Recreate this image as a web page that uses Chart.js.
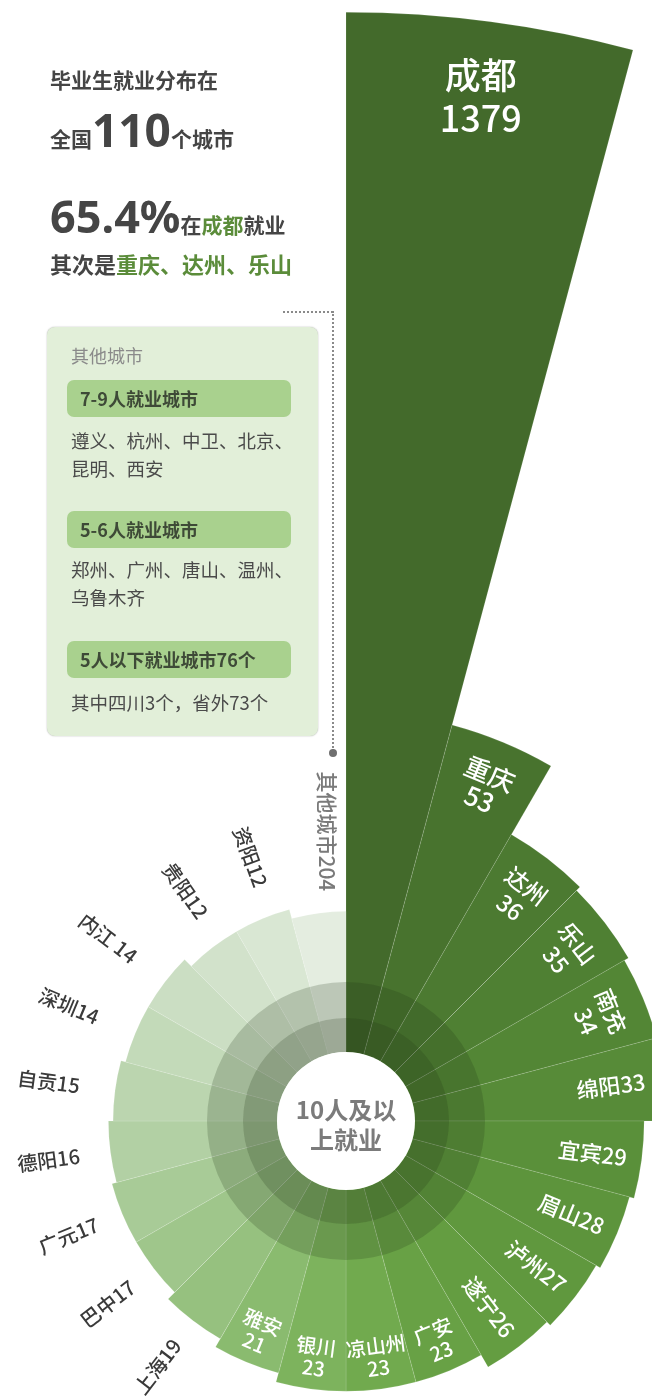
<!DOCTYPE html>
<html lang="zh-CN">
<head>
<meta charset="utf-8">
<script src="https://cdn.jsdelivr.net/npm/chart.js@4.4.1/dist/chart.umd.min.js"></script>
<style>
  html, body { margin: 0; padding: 0; background: #fff; }
  body {
    width: 652px; height: 1398px; overflow: hidden; position: relative;
    font-family: "Noto Sans CJK SC", "Noto Sans", sans-serif; color: #444;
  }
  #chartWrap { position: absolute; left: 0; top: 0; width: 652px; height: 1398px; }
  .t { position: absolute; white-space: nowrap; line-height: 1; }
  .head { font-size: 21px; font-weight: 700; color: #454545; }
  .big { font-weight: 700; color: #454545; font-family: "Noto Sans", "Noto Sans CJK SC", sans-serif; }
  .green { color: #5b8c3a; }
  .box {
    position: absolute; left: 47px; top: 327px; width: 271px; height: 409px;
    background: #e2efd9; border-radius: 8px; box-shadow: 0 0 1.5px rgba(0,0,0,0.35);
  }
  .pill {
    position: absolute; left: 67px; width: 224px; height: 37px; border-radius: 7px;
    background: #a9d18e; font-size: 18px; font-weight: 700; color: #3e4a37;
    line-height: 37px; padding-left: 13px; box-sizing: border-box;
  }
  .list { font-size: 18.5px; color: #4a4a4a; left: 71px; }
  .dotH { position: absolute; left: 283px; top: 311px; width: 50px; border-top: 2px dotted #8a8a8a; }
  .dotV { position: absolute; left: 332px; top: 311px; height: 440px; border-left: 2px dotted #8a8a8a; }
  .dot { position: absolute; left: 329px; top: 749px; width: 8px; height: 8px; border-radius: 50%; background: #6f6f6f; }
  .center { position: absolute; left: 276px; width: 140px; text-align: center; font-size: 24px; font-weight: 700; color: #7b7b7b; line-height: 1; }
</style>
</head>
<body>
<div id="chartWrap"><canvas id="roseChart"></canvas></div>

<div class="t head" style="left:50px; top:69px;">毕业生就业分布在</div>
<div class="t" style="left:50px; top:106px; line-height:46px;">
  <span class="head">全国</span><span class="big" style="font-size:46px;">110</span><span class="head">个城市</span>
</div>
<div class="t" style="left:50px; top:192px; line-height:47px;">
  <span class="big" style="font-size:45px;">65.4%</span><span class="head">在<span class="green">成都</span>就业</span>
</div>
<div class="t head" style="left:50px; top:252px; font-size:22px;">其次是<span class="green">重庆、达州、乐山</span></div>

<div class="dotH"></div>
<div class="dotV"></div>
<div class="dot"></div>

<div class="box"></div>
<div class="t" style="left:71px; top:346px; font-size:18px; color:#8a8a8a;">其他城市</div>
<div class="pill" style="top:380px;">7-9人就业城市</div>
<div class="t list" style="top:431px;">遵义、杭州、中卫、北京、</div>
<div class="t list" style="top:459px;">昆明、西安</div>
<div class="pill" style="top:511px;">5-6人就业城市</div>
<div class="t list" style="top:560px;">郑州、广州、唐山、温州、</div>
<div class="t list" style="top:588px;">乌鲁木齐</div>
<div class="pill" style="top:641px;">5人以下就业城市76个</div>
<div class="t list" style="top:693px;">其中四川3个，省外73个</div>

<div class="center" style="top:1097px;">10人及以</div>
<div class="center" style="top:1127px;">上就业</div>

<script>
// cities clockwise from the top
const cities = ["成都", "重庆", "达州", "乐山", "南充", "绵阳", "宜宾", "眉山", "泸州", "遂宁",
  "广安", "凉山州", "银川", "雅安", "上海", "巴中", "广元", "德阳", "自贡", "深圳",
  "内江", "贵阳", "资阳", "其他城市"];
const counts = [1379, 53, 36, 35, 34, 33, 29, 28, 27, 26,
  23, 23, 23, 21, 19, 17, 17, 16, 15, 14,
  14, 12, 12, 204];
// what the petals are drawn at: 成都 is cut by the scale break,
// 其他城市 sits at the 10-person level (each of those cities has fewer than 10)
const plotted = [1379, 53, 36, 35, 34, 33, 29, 28, 27, 26,
  23, 23, 23, 21, 19, 17, 17, 16, 15, 14,
  14, 12, 12, 10];
const labelText = ["成都\n1379", "重庆\n53", "达州\n36", "乐山\n35", "南充\n34", "绵阳33", "宜宾29", "眉山28", "泸州27", "遂宁26",
  "广安\n23", "凉山州\n23", "银川\n23", "雅安\n21", "上海19", "巴中17", "广元17", "德阳16", "自贡15", "深圳14",
  "内江 14", "贵阳12", "资阳12", "其他城市204"];

const palette = ["#436a2b", "#48732e", "#4c7a31", "#4f8033", "#538635", "#578b38", "#5a903a", "#5d943c",
  "#60983e", "#649d41", "#68a145", "#71aa4e", "#7db35d", "#8abb6f", "#96c17f", "#9fc68b",
  "#a8cb97", "#b2d0a4", "#bbd5af", "#c3dab9", "#cbdec3", "#d2e2cb", "#d9e7d3", "#e4ede0"];

const FONT = '"Noto Sans CJK SC", "Noto Sans", sans-serif';

// radial scale with a break: values above breakAt are drawn at breakAt
class BrokenRadialScale extends Chart.RadialLinearScale {
  getDistanceFromCenterForValue(value) {
    const cap = this.options.breakAt;
    return super.getDistanceFromCenterForValue(cap != null && value > cap ? cap : value);
  }
}
BrokenRadialScale.id = "brokenRadial";
BrokenRadialScale.defaults = Chart.RadialLinearScale.defaults;
Chart.register(BrokenRadialScale);

function ring(ctx, x, y, r1, r2, color) {
  ctx.beginPath();
  ctx.arc(x, y, r2, 0, Math.PI * 2);
  ctx.arc(x, y, r1, 0, Math.PI * 2, true);
  ctx.fillStyle = color;
  ctx.fill();
}

function drawText(ctx, x, y, rot, text, font, color, align, lineGap) {
  const lines = text.split("\n");
  ctx.save();
  ctx.translate(x, y);
  ctx.rotate(rot);
  ctx.font = font;
  ctx.fillStyle = color;
  ctx.textAlign = align;
  ctx.textBaseline = "middle";
  const off = (lines.length - 1) * lineGap / 2;
  lines.forEach((l, k) => ctx.fillText(l, 0, k * lineGap - off));
  ctx.restore();
}

const roseDecor = {
  id: "roseDecor",
  afterDatasetsDraw(chart) {
    const ctx = chart.ctx;
    const scale = chart.scales.r;
    const cx = scale.xCenter, cy = scale.yCenter;
    ctx.save();
    ring(ctx, cx, cy, 103, 139, "rgba(30,50,20,0.2)");
    ring(ctx, cx, cy, 69, 103, "rgba(30,50,20,0.36)");
    ctx.beginPath();
    ctx.arc(cx, cy, 69, 0, Math.PI * 2);
    ctx.fillStyle = "#fff";
    ctx.fill();
    ctx.restore();

    const meta = chart.getDatasetMeta(0);
    meta.data.forEach((arc, i) => {
      const { startAngle, endAngle, outerRadius } = arc.getProps(["startAngle", "endAngle", "outerRadius"]);
      let phi = (startAngle + endAngle) / 2;
      const at = r => [cx + r * Math.cos(phi), cy + r * Math.sin(phi)];
      const txt = labelText[i];
      if (i === 0) {
        const [x, y] = at(outerRadius - 76);
        drawText(ctx, x, y, 0, txt, "500 36px " + FONT, "#fff", "center", 43);
      } else if (i <= 4) {
        const [x, y] = at(outerRadius - 48);
        const size = i === 1 ? 26 : 23;
        drawText(ctx, x, y, phi + Math.PI / 2, txt, "500 " + size + "px " + FONT, "#fff", "center", 27);
      } else if (i <= 9) {
        const [x, y] = at(outerRadius - 15);
        drawText(ctx, x, y, phi, txt, "500 22px " + FONT, "#fff", "right", 0);
      } else if (i <= 13) {
        const [x, y] = at(outerRadius - 32);
        drawText(ctx, x, y, phi - Math.PI / 2, txt, "500 20px " + FONT, "#fff", "center", 22);
      } else if (i <= 22) {
        // outside labels: most sit on a common ring, the two near the top hug their petals
        let r = Math.max(outerRadius + 58, 300);
        if (i >= 21) { r = outerRadius + 62; phi += 0.045; }
        const [x, y] = at(r);
        drawText(ctx, x, y, phi + Math.PI, txt, "500 20px " + FONT, "#3a3a3a", "center", 0);
      } else {
        // 其他城市 runs straight down beside the 成都 petal
        drawText(ctx, cx - 19, cy - outerRadius - 80, Math.PI / 2, txt, "500 21px " + FONT, "#7a7a7a", "center", 0);
      }
    });
  }
};

new Chart(document.getElementById("roseChart"), {
  type: "polarArea",
  data: {
    labels: cities,
    datasets: [{
      data: plotted,
      backgroundColor: palette,
      borderColor: "rgba(255,255,255,0.22)",
      borderWidth: 0.6,
      clip: false
    }]
  },
  options: {
    responsive: true,
    maintainAspectRatio: false,
    animation: false,
    events: [],
    layout: { padding: { left: 40, right: 0, top: 844, bottom: 0 } },
    plugins: { legend: { display: false }, tooltip: { enabled: false } },
    scales: {
      r: {
        type: "brokenRadial",
        min: -35,
        max: 24.46,
        breakAt: 203,
        startAngle: 0,
        ticks: { display: false },
        grid: { display: false },
        angleLines: { display: false },
        pointLabels: { display: false }
      }
    }
  },
  plugins: [roseDecor]
});
</script>
</body>
</html>
